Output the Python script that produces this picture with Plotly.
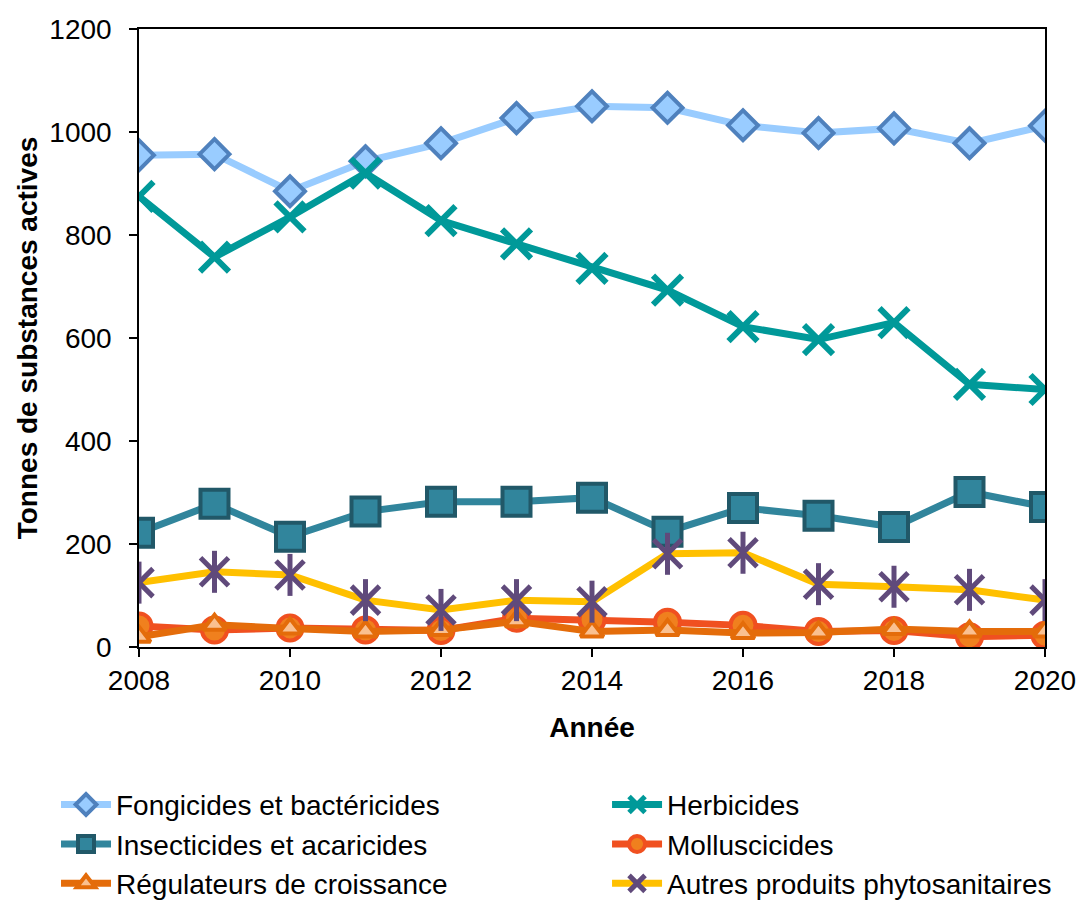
import plotly.graph_objects as go

years = list(range(2008, 2021))
fongicides = [955, 957, 885, 943, 978, 1027, 1050, 1047, 1013, 998, 1007, 978, 1012]
herbicides = [875, 757, 835, 920, 828, 783, 735, 693, 622, 597, 630, 510, 500]
insecticides = [222, 278, 214, 263, 282, 282, 290, 224, 270, 255, 233, 301, 272]
molluscicides = [41, 33, 37, 33, 32, 56, 53, 48, 42, 30, 32, 20, 23]
regulateurs = [20, 43, 36, 30, 33, 50, 30, 33, 27, 28, 35, 30, 30]
autres = [125, 146, 140, 91, 72, 91, 88, 181, 183, 122, 117, 111, 91]

names = ["Fongicides et bactéricides", "Herbicides", "Insecticides et acaricides",
         "Molluscicides", "Régulateurs de croissance", "Autres produits phytosanitaires"]

FONT = "Liberation Sans, Arial, sans-serif"
FS = 28

fig = go.Figure()

fig.add_trace(go.Scatter(x=years, y=fongicides, name=names[0], mode="lines+markers", legend="legend",
    line=dict(color="#99CCFF", width=7),
    marker=dict(symbol="diamond", size=23, color="#99CCFF", line=dict(color="#4F81BD", width=4))))

fig.add_trace(go.Scatter(x=years, y=herbicides, name=names[1], mode="lines+markers", legend="legend2",
    line=dict(color="#009999", width=7),
    marker=dict(symbol="x-thin-open", size=29, color="#009999", line=dict(color="#009999", width=6))))

fig.add_trace(go.Scatter(x=years, y=insecticides, name=names[2], mode="lines+markers", legend="legend",
    line=dict(color="#31859C", width=7),
    marker=dict(symbol="square", size=28, color="#31859C", line=dict(color="#215868", width=4))))

fig.add_trace(go.Scatter(x=years, y=molluscicides, name=names[3], mode="lines+markers", legend="legend2",
    line=dict(color="#F05020", width=7),
    marker=dict(symbol="circle", size=25, color="#F0801E", line=dict(color="#F05020", width=4))))

fig.add_trace(go.Scatter(x=years, y=regulateurs, name=names[4], mode="lines+markers", legend="legend",
    line=dict(color="#E46C0A", width=7),
    marker=dict(symbol="triangle-up", size=20, color="#FAC090", line=dict(color="#E46C0A", width=4))))

fig.add_trace(go.Scatter(x=years, y=autres, name=names[5], mode="lines+markers", legend="legend2",
    line=dict(color="#FFC000", width=7),
    marker=dict(symbol="x-thin-open", size=28, color="#604A7B", line=dict(color="#604A7B", width=5))))

fig.add_trace(go.Scatter(x=years, y=autres, name=names[5], mode="markers", showlegend=False,
    marker=dict(symbol="line-ns-open", size=30, color="#604A7B", line=dict(color="#604A7B", width=5))))

leg_common = dict(orientation="v", y=-0.215, xanchor="left", yanchor="top",
                  font=dict(family=FONT, size=FS, color="black"),
                  itemwidth=50, bgcolor="rgba(0,0,0,0)")

fig.update_layout(
    width=1080, height=904,
    margin=dict(l=139, r=35, t=29, b=257, autoexpand=False),
    paper_bgcolor="white", plot_bgcolor="white",
    font=dict(family=FONT, size=FS, color="black"),
    showlegend=True,
    legend=dict(x=-0.0916, **leg_common),
    legend2=dict(x=0.5166, **leg_common),
    xaxis=dict(range=[2008, 2020], tickmode="linear", tick0=2008, dtick=2,
               showgrid=False, zeroline=False, showline=True, linecolor="black", linewidth=1.5,
               mirror=True, ticks="outside", ticklen=8, tickcolor="black", tickwidth=1.5,
               title=dict(text="<b>Année</b>", font=dict(family=FONT, size=FS), standoff=22),
               tickfont=dict(family=FONT, size=FS)),
    yaxis=dict(range=[0, 1200], tickmode="linear", tick0=0, dtick=200,
               showgrid=False, zeroline=False, showline=True, linecolor="black", linewidth=1.5,
               mirror=True, ticks="outside", ticklen=8, tickcolor="black", tickwidth=1.5,
               ticklabelstandoff=12,
               title=dict(text="<b>Tonnes de substances actives</b>", font=dict(family=FONT, size=FS), standoff=4),
               tickfont=dict(family=FONT, size=FS)),
)

fig.write_html("out.html", config={"displayModeBar": False},
               post_script="document.body.style.margin='0px';document.body.style.overflow='hidden';")
